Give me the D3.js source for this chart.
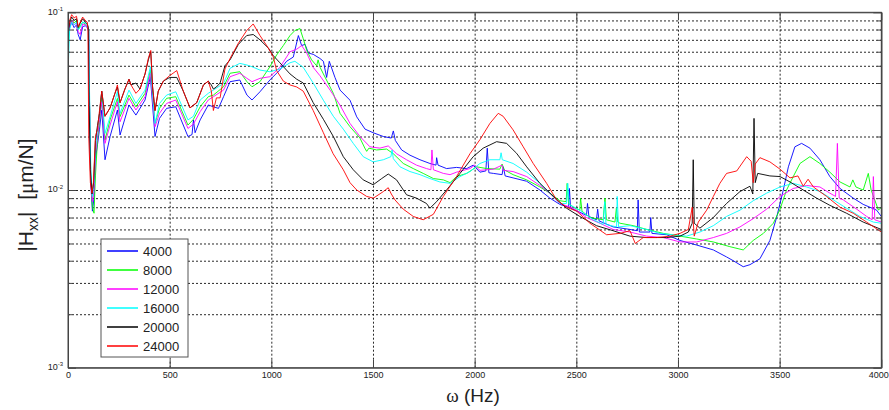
<html lang="en">
<head>
<meta charset="UTF-8">
<title>|Hxx| frequency response</title>
<style>
    body { margin: 0; background: #fff; }
    svg { display: block; }
    .grid line { stroke: #111; stroke-width: 0.9; stroke-dasharray: 2,2; }
    .grid path { display: none; }
    .axis path, .axis line { stroke: #444; stroke-width: 1; }
    .axis text { font-family: "Liberation Sans", Arial, sans-serif; font-size: 9px; fill: #222; }
    .curve { fill: none; stroke-width: 0.9; }
    .legend text { font-family: "Liberation Sans", Arial, sans-serif; font-size: 13px; fill: #222; }
</style>
</head>
<body>
<svg id="chart" width="889" height="410"></svg>
<script src="https://d3js.org/d3.v7.min.js"></script>
<script>
    // [frequency (Hz), |Hxx| (um/N)]
    const hxx4000 = [
        [0,0.07],[8,0.082],[18,0.088],[30,0.082],[42,0.085],[50,0.075],[60,0.07],[72,0.083],[85,0.084],[95,0.082],[102,0.078],[106,0.03],[112,0.011],[120,0.0076],[128,0.009],[135,0.015],[145,0.018],[155,0.022],
        [166,0.0282],[182,0.0148],[207,0.02],[243,0.0282],[256,0.0204],[300,0.0301],[334,0.0264],[379,0.0321],[405,0.0434],[428,0.02],[450,0.0253],[485,0.0288],[530,0.0294],[590,0.02],[610,0.0205],[617,0.0248],[625,0.021],[650,0.0248],[690,0.0301],[715,0.0294],[740,0.0288],[765,0.0335],[797,0.0407],[845,0.0416],[880,0.0342],[905,0.0321],[944,0.0357],[993,0.0416],
        [1042,0.0474],[1075,0.053],[1108,0.056],[1133,0.074],[1149,0.065],[1166,0.066],[1182,0.059],[1206,0.058],[1239,0.055],[1256,0.053],[1272,0.043],[1285,0.053],[1313,0.043],[1338,0.0365],[1387,0.032],[1420,0.0258],[1461,0.022],[1501,0.021],[1551,0.02],[1590,0.0196],[1600,0.0215],[1610,0.019],[1641,0.0168],[1682,0.0157],[1731,0.0148],[1780,0.0141],[1810,0.0138],[1813,0.0152],[1820,0.0138],[1862,0.0132],[1911,0.0134],[1961,0.0132],[1993,0.0138],
        [2026,0.0126],[2055,0.0128],[2062,0.0172],[2070,0.0125],[2092,0.0124],[2135,0.0122],[2141,0.0135],[2150,0.012],[2189,0.0117],[2256,0.0112],[2321,0.01],[2370,0.009],[2419,0.0083],[2462,0.008],[2466,0.0102],[2472,0.0079],[2517,0.0075],[2550,0.0072],[2555,0.0084],[2562,0.0071],[2599,0.0068],[2605,0.0078],[2612,0.0067],[2681,0.0062],[2764,0.006],[2800,0.0059],[2804,0.0088],[2810,0.0058],[2862,0.0058],[2866,0.007],[2872,0.0057],[2944,0.0056],
        [3010,0.0052],[3092,0.0049],[3174,0.0046],[3239,0.0042],[3272,0.004],[3321,0.0037],[3354,0.0038],[3403,0.0041],[3452,0.0052],[3485,0.007],[3518,0.01],[3543,0.0135],[3575,0.0175],[3608,0.0183],[3649,0.0172],[3698,0.0148],[3747,0.0119],[3797,0.0102],[3862,0.009],[3911,0.0083],[3977,0.0077],[4000,0.0071]
    ];
    const hxx8000 = [
        [0,0.06],[8,0.085],[18,0.09],[30,0.087],[42,0.09],[50,0.08],[60,0.084],[72,0.088],[85,0.086],[95,0.084],[102,0.08],[106,0.03],[112,0.012],[120,0.008],[128,0.0074],[135,0.012],[145,0.019],[155,0.024],
        [166,0.0331],[182,0.0191],[207,0.0248],[243,0.0328],[256,0.0259],[300,0.0342],[334,0.0294],[379,0.035],[405,0.0473],[428,0.0237],[450,0.0288],[485,0.0328],[530,0.0335],[590,0.0232],[617,0.025],[650,0.0294],[690,0.0335],[715,0.0342],[765,0.0381],[797,0.0454],[845,0.0463],[880,0.0407],[905,0.0381],[944,0.0407],[993,0.0494],
        [1026,0.0575],[1059,0.065],[1092,0.074],[1116,0.079],[1141,0.081],[1157,0.071],[1174,0.061],[1198,0.054],[1223,0.05],[1230,0.054],[1240,0.049],[1256,0.045],[1305,0.035],[1338,0.027],[1387,0.0227],[1436,0.0196],[1460,0.0172],[1469,0.0165],[1480,0.0172],[1518,0.0168],[1567,0.017],[1600,0.016],[1649,0.0141],[1698,0.0132],[1747,0.0124],[1797,0.0116],[1846,0.0114],[1879,0.011],[1911,0.0119],[1961,0.0124],
        [2010,0.0135],[2059,0.0132],[2124,0.0131],[2135,0.014],[2145,0.013],[2189,0.0122],[2256,0.0114],[2321,0.0104],[2370,0.0096],[2419,0.0087],[2450,0.0086],[2455,0.0109],[2462,0.0084],[2485,0.008],[2517,0.0077],[2521,0.009],[2528,0.0076],[2567,0.007],[2632,0.0068],[2641,0.009],[2648,0.0068],[2690,0.0066],[2697,0.0079],[2704,0.0066],[2715,0.0065],[2780,0.0063],[2846,0.006],[2928,0.0057],
        [3010,0.0055],[3092,0.0053],[3174,0.0051],[3255,0.0048],[3321,0.0046],[3370,0.0052],[3420,0.0057],[3469,0.0065],[3502,0.0078],[3534,0.01],[3567,0.0119],[3600,0.0141],[3649,0.0154],[3698,0.0141],[3747,0.0126],[3797,0.0111],[3846,0.0104],[3860,0.0114],[3875,0.0104],[3911,0.01],[3936,0.0124],[3950,0.01],[3986,0.0077],[4000,0.008]
    ];
    const hxx12000 = [
        [0,0.07],[8,0.085],[18,0.09],[30,0.085],[42,0.087],[50,0.078],[60,0.075],[72,0.086],[85,0.085],[95,0.083],[102,0.079],[106,0.03],[112,0.011],[120,0.0086],[128,0.01],[135,0.016],[145,0.02],[155,0.025],
        [166,0.0314],[182,0.0183],[207,0.0232],[243,0.0314],[256,0.0242],[300,0.0328],[334,0.0282],[379,0.0335],[405,0.0454],[428,0.0227],[450,0.027],[485,0.0307],[530,0.0321],[590,0.0222],[617,0.0235],[650,0.0276],[690,0.0321],[715,0.0335],[765,0.0365],[797,0.0434],[845,0.0454],[880,0.0425],[905,0.0407],[944,0.0425],[993,0.0434],
        [1042,0.049],[1092,0.06],[1125,0.062],[1149,0.065],[1174,0.059],[1206,0.049],[1239,0.044],[1289,0.0365],[1338,0.03],[1387,0.0237],[1436,0.02],[1485,0.0175],[1534,0.0172],[1575,0.0177],[1616,0.016],[1665,0.0148],[1714,0.0138],[1763,0.0132],[1785,0.013],[1790,0.0168],[1797,0.013],[1846,0.0124],[1879,0.0122],[1911,0.0126],[1977,0.0132],
        [2000,0.0138],[2026,0.0129],[2092,0.0131],[2135,0.0138],[2141,0.0129],[2189,0.0127],[2256,0.0119],[2321,0.0106],[2370,0.0096],[2419,0.0084],[2485,0.0079],[2550,0.007],[2616,0.0065],[2681,0.006],[2764,0.0058],[2846,0.0055],[2928,0.0054],
        [3010,0.0051],[3092,0.0051],[3174,0.0054],[3239,0.0057],[3305,0.0062],[3370,0.0069],[3436,0.0078],[3502,0.0092],[3567,0.0102],[3633,0.0106],[3698,0.0104],[3747,0.0096],[3775,0.0092],[3784,0.0183],[3793,0.009],[3813,0.0088],[3879,0.0078],[3928,0.0071],[3955,0.0068],[3961,0.0119],[3968,0.0068],[4000,0.0066]
    ];
    const hxx16000 = [
        [0,0.045],[8,0.08],[18,0.088],[30,0.085],[42,0.088],[50,0.08],[60,0.082],[72,0.088],[85,0.087],[95,0.085],[102,0.08],[106,0.035],[112,0.013],[120,0.0092],[128,0.011],[135,0.017],[145,0.022],[155,0.027],
        [166,0.0357],[182,0.0208],[207,0.0259],[243,0.0357],[256,0.027],[300,0.0365],[334,0.0307],[379,0.0365],[405,0.0494],[428,0.0237],[450,0.0307],[485,0.0342],[530,0.0357],[590,0.0248],[617,0.026],[650,0.0321],[690,0.035],[715,0.0365],[765,0.0398],[797,0.0484],[845,0.0516],[880,0.0505],[905,0.0494],[944,0.0473],[993,0.0463],
        [1042,0.048],[1092,0.052],[1116,0.053],[1157,0.049],[1206,0.04],[1256,0.032],[1305,0.026],[1354,0.022],[1403,0.0183],[1452,0.0154],[1501,0.0144],[1551,0.0148],[1588,0.0154],[1594,0.0168],[1600,0.015],[1633,0.0135],[1682,0.0127],[1731,0.0122],[1780,0.0116],[1829,0.0111],[1879,0.0109],[1928,0.0119],[1977,0.0127],
        [2026,0.0141],[2075,0.0148],[2124,0.0148],[2130,0.0162],[2136,0.0148],[2189,0.0141],[2256,0.0126],[2321,0.0109],[2379,0.0094],[2419,0.0084],[2452,0.0084],[2458,0.0109],[2465,0.0083],[2517,0.0077],[2583,0.0068],[2632,0.0064],[2640,0.0086],[2646,0.0064],[2698,0.0062],[2701,0.0092],[2708,0.0062],[2764,0.0063],[2846,0.006],[2911,0.0057],[2977,0.0056],
        [3042,0.0055],[3108,0.0058],[3174,0.0063],[3239,0.0071],[3305,0.0077],[3370,0.0087],[3436,0.0096],[3502,0.0104],[3567,0.0109],[3633,0.0104],[3698,0.0098],[3764,0.0088],[3829,0.0079],[3895,0.0071],[3961,0.0066],[4000,0.0065]
    ];
    const hxx20000 = [
        [0,0.075],[8,0.088],[18,0.094],[30,0.09],[42,0.092],[50,0.082],[60,0.087],[72,0.092],[85,0.088],[95,0.086],[100,0.082],[104,0.03],[110,0.013],[118,0.0095],[126,0.011],[135,0.019],[145,0.023],[155,0.027],
        [166,0.036],[182,0.026],[207,0.029],[231,0.035],[243,0.038],[256,0.031],[280,0.037],[300,0.042],[310,0.039],[334,0.04],[354,0.037],[379,0.045],[395,0.054],[407,0.06],[416,0.038],[428,0.028],[444,0.036],[469,0.041],[500,0.043],[535,0.043],[567,0.036],[600,0.029],[633,0.031],[666,0.039],[690,0.041],[705,0.039],[715,0.037],[730,0.038],[748,0.04],[772,0.05],[797,0.054],[838,0.066],[879,0.074],[911,0.075],[944,0.07],[985,0.063],
        [1010,0.057],[1042,0.052],[1092,0.045],[1125,0.042],[1157,0.04],[1206,0.031],[1256,0.025],[1305,0.02],[1354,0.0154],[1403,0.013],[1452,0.0114],[1501,0.0107],[1543,0.0116],[1575,0.0123],[1616,0.0114],[1665,0.0094],[1714,0.009],[1763,0.0084],[1780,0.0079],[1813,0.0086],[1862,0.01],[1928,0.0124],[1993,0.0154],
        [2042,0.0172],[2108,0.0187],[2157,0.0183],[2206,0.0161],[2256,0.0135],[2321,0.0109],[2387,0.0092],[2452,0.0079],[2517,0.0071],[2599,0.0063],[2681,0.0059],[2764,0.0055],[2846,0.0054],[2944,0.0054],
        [3010,0.0055],[3051,0.0058],[3070,0.0065],[3075,0.0148],[3080,0.0065],[3108,0.0061],[3174,0.007],[3239,0.0084],[3305,0.0098],[3354,0.0105],[3368,0.0095],[3374,0.0253],[3380,0.011],[3392,0.0124],[3452,0.012],[3502,0.0119],[3551,0.0111],[3616,0.01],[3682,0.009],[3747,0.0082],[3829,0.0074],[3911,0.0066],[4000,0.006]
    ];
    const hxx24000 = [
        [0,0.08],[8,0.09],[18,0.097],[30,0.093],[42,0.095],[50,0.083],[60,0.088],[72,0.094],[85,0.09],[95,0.088],[98,0.08],[102,0.02],[110,0.011],[118,0.0096],[125,0.011],[135,0.02],[145,0.022],[155,0.028],
        [166,0.036],[182,0.026],[207,0.029],[231,0.035],[243,0.039],[256,0.031],[280,0.037],[300,0.042],[310,0.039],[334,0.035],[354,0.037],[379,0.045],[395,0.055],[407,0.061],[416,0.038],[428,0.028],[444,0.036],[469,0.041],[500,0.044],[535,0.047],[567,0.036],[600,0.029],[633,0.031],[666,0.039],[690,0.041],[705,0.036],[715,0.028],[730,0.033],[748,0.033],[772,0.048],[797,0.055],[838,0.067],[879,0.079],[911,0.086],[944,0.074],[985,0.063],
        [1010,0.056],[1026,0.047],[1059,0.041],[1092,0.039],[1125,0.038],[1157,0.036],[1206,0.028],[1256,0.021],[1304,0.016],[1354,0.013],[1387,0.011],[1420,0.01],[1469,0.0092],[1502,0.009],[1551,0.0098],[1575,0.0103],[1590,0.0095],[1608,0.0088],[1649,0.0078],[1698,0.0071],[1747,0.0068],[1797,0.0073],[1846,0.0092],[1911,0.0119],[1977,0.016],
        [2026,0.0192],[2075,0.0237],[2116,0.027],[2140,0.026],[2189,0.0218],[2239,0.0175],[2288,0.0141],[2354,0.0109],[2403,0.0088],[2452,0.008],[2502,0.0076],[2567,0.0065],[2649,0.0056],[2715,0.0057],[2764,0.0059],[2790,0.005],[2829,0.0054],[2895,0.0054],[2961,0.0055],
        [3010,0.0057],[3051,0.006],[3070,0.008],[3080,0.0055],[3100,0.0066],[3141,0.0077],[3174,0.0092],[3206,0.0109],[3239,0.0124],[3289,0.0128],[3338,0.0154],[3360,0.0145],[3370,0.011],[3380,0.014],[3403,0.0152],[3452,0.0144],[3502,0.0131],[3551,0.0117],[3590,0.012],[3616,0.0105],[3640,0.0115],[3666,0.0104],[3731,0.0092],[3797,0.008],[3862,0.0074],[3928,0.0066],[4000,0.0058]
    ];

    const seriesNames = ["4000", "8000", "12000", "16000", "20000", "24000"];
    const seriesData = [hxx4000, hxx8000, hxx12000, hxx16000, hxx20000, hxx24000];
    const seriesColors = ["#0000ff", "#00ff00", "#ff00ff", "#00ffff", "#000000", "#ff0000"];
    const xTicks = [0, 500, 1000, 1500, 2000, 2500, 3000, 3500, 4000];
    const yMajor = [0.001, 0.01, 0.1];
    const yExponents = ["-3", "-2", "-1"];

    const svg = d3.select("#chart");
    const plotLeft = 68, plotTop = 12.3, plotRight = 881.3, plotBottom = 367.7;

    const x = d3.scaleLinear().domain([0, 4000]).range([plotLeft, plotRight]);
    const y = d3.scaleLog().domain([0.001, 0.1]).range([plotBottom, plotTop]);

    const yMinor = [];
    [0.001, 0.01].forEach(d => { for (let k = 2; k <= 9; k++) yMinor.push(+(d * k).toPrecision(3)); });

    // grid
    svg.append("g").attr("class", "grid")
        .attr("transform", `translate(0,${plotBottom})`)
        .call(d3.axisBottom(x).tickValues(xTicks.slice(1, -1)).tickSize(-(plotBottom - plotTop)).tickFormat(""));
    svg.append("g").attr("class", "grid")
        .attr("transform", `translate(${plotLeft},0)`)
        .call(d3.axisLeft(y).tickValues(yMinor.concat([0.01])).tickSize(-(plotRight - plotLeft)).tickFormat(""));

    svg.append("clipPath").attr("id", "plot-clip")
        .append("rect").attr("x", plotLeft).attr("y", plotTop)
        .attr("width", plotRight - plotLeft).attr("height", plotBottom - plotTop);

    const line = d3.line().x(d => x(d[0])).y(d => y(d[1]));

    svg.append("g").attr("clip-path", "url(#plot-clip)")
        .selectAll("path")
        .data(seriesData)
        .join("path")
        .attr("class", "curve")
        .attr("stroke", (d, i) => seriesColors[i])
        .attr("d", line);

    // axes, MATLAB style ticks inside on all four sides
    const xAxis = svg.append("g").attr("class", "axis")
        .attr("transform", `translate(0,${plotBottom})`)
        .call(d3.axisBottom(x).tickValues(xTicks).tickSizeInner(-8).tickSizeOuter(0).tickPadding(4)
            .tickFormat(d3.format("d")));
    // last label sits on the page edge, keep it inside
    xAxis.selectAll(".tick text").filter(d => d === 4000).attr("text-anchor", "end").attr("x", 7);

    svg.append("g").attr("class", "axis")
        .attr("transform", `translate(0,${plotTop})`)
        .call(d3.axisTop(x).tickValues(xTicks).tickSizeInner(-8).tickSizeOuter(0).tickFormat(""));

    const yAxisL = svg.append("g").attr("class", "axis")
        .attr("transform", `translate(${plotLeft},0)`)
        .call(d3.axisLeft(y).tickValues(yMajor).tickSizeInner(-8).tickSizeOuter(0).tickFormat(""));
    svg.append("g").attr("class", "axis")
        .attr("transform", `translate(${plotLeft},0)`)
        .call(d3.axisLeft(y).tickValues(yMinor).tickSizeInner(-4).tickSizeOuter(0).tickFormat(""));
    svg.append("g").attr("class", "axis")
        .attr("transform", `translate(${plotRight},0)`)
        .call(d3.axisRight(y).tickValues(yMajor).tickSizeInner(-8).tickSizeOuter(0).tickFormat(""));
    svg.append("g").attr("class", "axis")
        .attr("transform", `translate(${plotRight},0)`)
        .call(d3.axisRight(y).tickValues(yMinor).tickSizeInner(-4).tickSizeOuter(0).tickFormat(""));

    // 10^n labels
    yAxisL.selectAll(".tick").append("text")
        .attr("x", -5).attr("dy", "0.2em")
        .attr("text-anchor", "end")
        .each(function(d, i) {
            const t = d3.select(this);
            t.append("tspan").text("10");
            t.append("tspan").attr("font-size", "6px").attr("dy", "-0.6em").text(yExponents[i]);
        });

    // frame
    svg.append("rect")
        .attr("x", plotLeft).attr("y", plotTop)
        .attr("width", plotRight - plotLeft).attr("height", plotBottom - plotTop)
        .attr("fill", "none").attr("stroke", "#444").attr("stroke-width", 1);

    // axis titles
    svg.append("text")
        .attr("x", 473).attr("y", 402)
        .attr("text-anchor", "middle")
        .attr("font-family", "Liberation Sans, Arial, sans-serif")
        .attr("font-size", "19px").attr("fill", "#222")
        .html('<tspan font-family="Liberation Serif, serif">&#969;</tspan> (Hz)');

    const ylab = svg.append("text")
        .attr("transform", "translate(33,195) rotate(-90)")
        .attr("text-anchor", "middle")
        .attr("font-family", "Liberation Sans, Arial, sans-serif")
        .attr("font-size", "21px").attr("fill", "#222");
    ylab.append("tspan").text("|H");
    ylab.append("tspan").attr("font-size", "14px").attr("dy", "5").text("xx");
    ylab.append("tspan").attr("dy", "-5").text("|\u00a0\u00a0[");
    ylab.append("tspan").attr("font-family", "Liberation Serif, serif").text("\u03bc");
    ylab.append("tspan").text("m/N]");

    // legend
    const legend = svg.append("g").attr("class", "legend");
    legend.append("rect")
        .attr("x", 101).attr("y", 239).attr("width", 87).attr("height", 118)
        .attr("fill", "#fff").attr("stroke", "#555").attr("stroke-width", 1);
    const items = legend.selectAll("g.item")
        .data(seriesNames)
        .join("g").attr("class", "item")
        .attr("transform", (d, i) => `translate(0,${251 + i * 19})`);
    items.append("line")
        .attr("x1", 107).attr("x2", 138)
        .attr("stroke", (d, i) => seriesColors[i]).attr("stroke-width", 1.5);
    items.append("text")
        .attr("x", 143).attr("dy", "0.36em")
        .text(d => d);
</script>
</body>
</html>
